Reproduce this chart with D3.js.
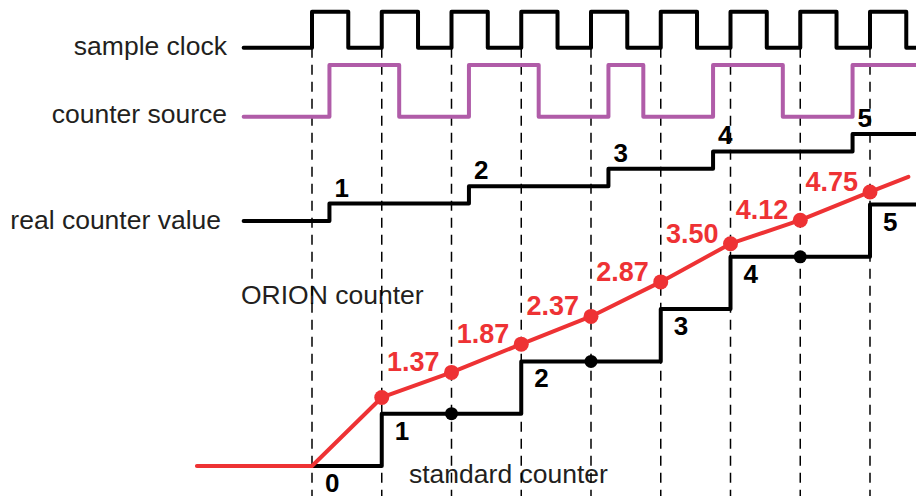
<!DOCTYPE html>
<html>
<head>
<meta charset="utf-8">
<script src="https://cdn.jsdelivr.net/npm/d3@7"></script>
<style>
  html, body { margin: 0; padding: 0; background: #fff; }
  svg { display: block; font-family: "Liberation Sans", Arial, sans-serif; }
</style>
</head>
<body>
<div id="chart"></div>
<script>
// Time is measured in sample clock periods (dashed lines = sample instants)
const sampleTimes = [0, 1, 2, 3, 4, 5, 6, 7, 8];
const clockRise = [0, 1, 2, 3, 4, 5, 6, 7, 8];
const clockFall = [0.52, 1.52, 2.52, 3.52, 4.52, 5.52, 6.52, 7.52, 8.52];
const sourceRise = [0.25, 2.25, 4.25, 5.75, 7.75];
const sourceFall = [1.25, 3.25, 4.75, 6.75];

// real counter increments on every counter source rising edge
const realSteps = [0.25, 2.25, 4.25, 5.75, 7.75];
const realValues = [0, 1, 2, 3, 4, 5];

// standard counter, value latched at each sample
const stdValues = [0, 1, 1, 2, 2, 3, 4, 4, 5];

const orionTimes = [-1.65, 0, 1, 2, 3, 4, 5, 6, 7, 8, 8.55];
const orionValues = [0, 0, 1.31, 1.79, 2.33, 2.86, 3.52, 4.25, 4.70, 5.24, 5.53];
const orionLabels = ["", "", "", "1.37", "1.87", "2.37", "2.87", "3.50", "4.12", "4.75", ""];

const rowLabels = ["sample clock", "counter source", "real counter value"];

const width = 916;
const height = 496;
const tStart = -0.98;
const tEnd = 8.7;

const svg = d3.select("#chart")
    .append("svg")
    .attr("width", width)
    .attr("height", height);

const x = d3.scaleLinear().domain([0, 8]).range([312, 870]);
const yClock = d3.scaleLinear().domain([0, 1]).range([47.7, 11.7]);
const ySource = d3.scaleLinear().domain([0, 1]).range([116.7, 65]);
const yReal = d3.scaleLinear().domain([0, 5]).range([221, 134]);
const yStd = d3.scaleLinear().domain([0, 5]).range([466, 204.5]);

const black = "#000";
const purple = "#b05ca8";
const red = "#ee3234";
const textCol = "#231f20";

// turn edge lists into step points
function edgesToPoints(rise, fall) {
    const ev = rise.map(t => [t, 1]).concat(fall.map(t => [t, 0])).sort((a, b) => a[0] - b[0]);
    const pts = [[tStart, 0]].concat(ev);
    pts.push([tEnd, ev[ev.length - 1][1]]);
    return pts;
}

const clockPts = edgesToPoints(clockRise, clockFall);
const sourcePts = edgesToPoints(sourceRise, sourceFall);
const realPts = [[tStart, realValues[0]]]
    .concat(realSteps.map((t, i) => [t, realValues[i + 1]]));
realPts.push([tEnd, realValues[realValues.length - 1]]);
const stdPts = sampleTimes.map((t, i) => [t, stdValues[i]]);
stdPts.push([tEnd, stdValues[stdValues.length - 1]]);

// row labels
const labelY = [55, 123, 229];
const labelX = [227, 227, 221];
svg.append("g")
    .selectAll("text")
    .data(rowLabels)
    .join("text")
    .attr("x", (d, i) => labelX[i])
    .attr("y", (d, i) => labelY[i])
    .attr("text-anchor", "end")
    .style("font-size", "26.5px")
    .style("fill", textCol)
    .text(d => d);

svg.append("text")
    .attr("x", 241).attr("y", 304)
    .style("font-size", "26.5px").style("fill", textCol)
    .text("ORION counter");

svg.append("text")
    .attr("x", 409).attr("y", 483)
    .style("font-size", "26.5px").style("fill", textCol)
    .text("standard counter");

// dashed sample lines
svg.append("g")
    .selectAll("line")
    .data(sampleTimes)
    .join("line")
    .attr("x1", d => x(d)).attr("x2", d => x(d))
    .attr("y1", yClock(0)).attr("y2", height)
    .attr("stroke", black)
    .attr("stroke-width", 1.5)
    .attr("stroke-dasharray", "10,7");

function stepPath(pts, yScale, color) {
    const line = d3.line()
        .x(d => x(d[0]))
        .y(d => yScale(d[1]))
        .curve(d3.curveStepAfter);
    svg.append("path")
        .datum(pts)
        .attr("d", line)
        .attr("fill", "none")
        .attr("stroke", color)
        .attr("stroke-width", 4)
        .attr("stroke-linejoin", "round")
        .attr("stroke-linecap", "round");
}

stepPath(clockPts, yClock, black);
stepPath(sourcePts, ySource, purple);
stepPath(realPts, yReal, black);
stepPath(stdPts, yStd, black);

// labels on the real counter
svg.append("g")
    .selectAll("text")
    .data(realSteps)
    .join("text")
    .attr("x", d => x(d) + 5)
    .attr("y", (d, i) => yReal(realValues[i + 1]) - 7)
    .style("font-size", "26px")
    .style("font-weight", "bold")
    .style("fill", black)
    .text((d, i) => realValues[i + 1]);

// labels on the standard counter where value changes
const stdChanges = sampleTimes
    .map((t, i) => ({ t: t, v: stdValues[i], changed: i === 0 || stdValues[i] !== stdValues[i - 1] }));
svg.append("g")
    .selectAll("text")
    .data(stdChanges.filter(d => d.changed))
    .join("text")
    .attr("x", d => x(d.t) + 13)
    .attr("y", d => yStd(d.v) + 26)
    .style("font-size", "26px")
    .style("font-weight", "bold")
    .style("fill", black)
    .text(d => d.v);

// dots where the standard counter did not change
svg.append("g")
    .selectAll("circle")
    .data(stdChanges.filter(d => !d.changed))
    .join("circle")
    .attr("cx", d => x(d.t))
    .attr("cy", d => yStd(d.v))
    .attr("r", 6.5)
    .attr("fill", black);

// ORION counter
const orion = orionTimes.map((t, i) => ({ t: t, v: orionValues[i], label: orionLabels[i] }));
svg.append("path")
    .datum(orion)
    .attr("d", d3.line().x(d => x(d.t)).y(d => yStd(d.v)))
    .attr("fill", "none")
    .attr("stroke", red)
    .attr("stroke-width", 4)
    .attr("stroke-linecap", "round")
    .attr("stroke-linejoin", "round");

svg.append("g")
    .selectAll("circle")
    .data(orion.filter(d => d.t >= 1 && d.t <= 8))
    .join("circle")
    .attr("cx", d => x(d.t))
    .attr("cy", d => yStd(d.v))
    .attr("r", 7.5)
    .attr("fill", red);

svg.append("g")
    .selectAll("text")
    .data(orion.filter(d => d.label))
    .join("text")
    .attr("x", d => x(d.t) - 12)
    .attr("y", d => yStd(d.v) - 1)
    .attr("text-anchor", "end")
    .style("font-size", "27px")
    .style("font-weight", "bold")
    .style("fill", red)
    .text(d => d.label);
</script>
</body>
</html>
